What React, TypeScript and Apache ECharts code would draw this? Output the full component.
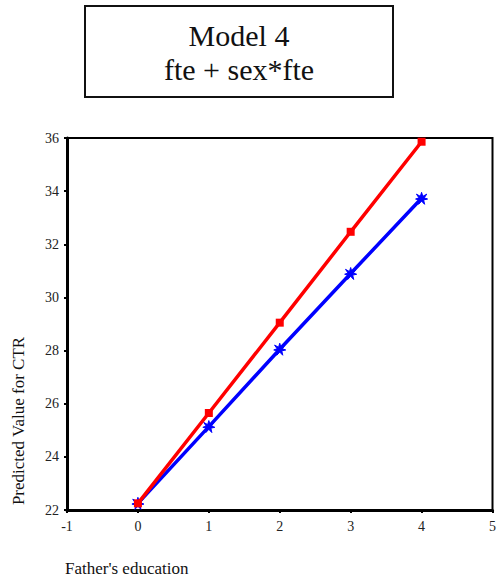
import React, { useEffect, useRef } from "react";
import * as echarts from "echarts";

const xValues = [0, 1, 2, 3, 4];
const femaleValues = [22.25, 25.65, 29.05, 32.47, 35.86];
const maleValues = [22.25, 25.14, 28.05, 30.9, 33.73];
const titleLines = ["Model 4", "fte + sex*fte"];
const xAxisName = "Father's education";
const yAxisName = "Predicted Value for CTR";

const FONT = "'Liberation Serif', 'Times New Roman', serif";
const STAR =
  "path://M5,0 L6,3.3 L9.3,1.5 L7.2,4.5 L10,5.5 L6.7,6.2 L7.5,9.8 L5,7.2 L2.5,9.8 L3.3,6.2 L0,5.5 L2.8,4.5 L0.7,1.5 L4,3.3 Z";

export default function App() {
  const ref = useRef<HTMLDivElement>(null);
  useEffect(() => {
    if (!ref.current) return;
    const chart = echarts.init(ref.current, undefined, { renderer: "svg" });
    chart.setOption({
      animation: false,
      backgroundColor: "#ffffff",
      grid: {
        left: 67,
        right: 2,
        top: 138,
        bottom: 72,
        show: true,
        borderColor: "#000",
        borderWidth: 2,
        backgroundColor: "transparent",
      },
      xAxis: {
        type: "value",
        min: -1,
        max: 5,
        interval: 1,
        axisLine: { show: true, onZero: false, lineStyle: { color: "#000", width: 3 } },
        axisTick: { show: true, length: 3, lineStyle: { color: "#000", width: 2 } },
        axisLabel: { color: "#222", fontFamily: FONT, fontSize: 14, margin: 9 },
        splitLine: { show: false },
      },
      yAxis: {
        type: "value",
        min: 22,
        max: 36,
        interval: 2,
        axisLine: { show: true, onZero: false, lineStyle: { color: "#000", width: 3 } },
        axisTick: { show: true, length: 3, lineStyle: { color: "#000", width: 2 } },
        axisLabel: { color: "#222", fontFamily: FONT, fontSize: 14, margin: 8 },
        splitLine: { show: false },
      },
      graphic: [
        {
          type: "rect",
          shape: { x: 85, y: 6, width: 308, height: 91 },
          style: { fill: "#fff", stroke: "#111", lineWidth: 2 },
        },
        {
          type: "text",
          x: 239,
          y: 35,
          style: {
            text: titleLines[0],
            font: `30px ${FONT}`,
            fill: "#111",
            align: "center",
            verticalAlign: "middle",
          },
        },
        {
          type: "text",
          x: 239,
          y: 69,
          style: {
            text: titleLines[1],
            font: `30px ${FONT}`,
            fill: "#111",
            align: "center",
            verticalAlign: "middle",
          },
        },
        {
          type: "text",
          x: 18,
          y: 421,
          rotation: Math.PI / 2,
          style: {
            text: yAxisName,
            font: `17px ${FONT}`,
            fill: "#111",
            align: "center",
            verticalAlign: "middle",
          },
        },
        {
          type: "text",
          x: 65,
          y: 568,
          style: {
            text: xAxisName,
            font: `17px ${FONT}`,
            fill: "#111",
            align: "left",
            verticalAlign: "middle",
          },
        },
      ],
      series: [
        {
          type: "line",
          data: xValues.map((x, i) => [x, maleValues[i]]),
          symbol: STAR,
          symbolSize: 12,
          showAllSymbol: true,
          lineStyle: { color: "#0000ff", width: 3.5 },
          itemStyle: { color: "#0000ff", borderColor: "#0000ff", borderWidth: 1 },
          z: 2,
        },
        {
          type: "line",
          data: xValues.map((x, i) => [x, femaleValues[i]]),
          symbol: "rect",
          symbolSize: 8,
          showAllSymbol: true,
          lineStyle: { color: "#ff0000", width: 3.5 },
          itemStyle: { color: "#ff0000" },
          z: 3,
        },
      ],
    });
    return () => chart.dispose();
  }, []);
  return (
    <div
      ref={ref}
      style={{ position: "fixed", left: 0, top: 0, width: 499, height: 582 }}
    />
  );
}
